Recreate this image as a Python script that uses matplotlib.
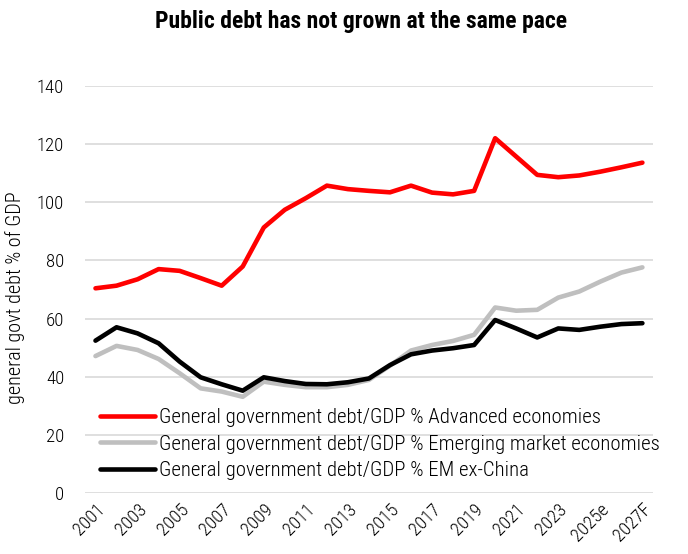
import numpy as np
import matplotlib.pyplot as plt

plt.rcParams['font.family'] = ['Roboto Condensed', 'Archivo Narrow', 'Liberation Sans Narrow', 'DejaVu Sans']

years = [str(y) for y in range(2001, 2025)] + ['2025e', '2026e', '2027F']

advanced = [70.4, 71.3, 73.5, 77.0, 76.4, 73.9, 71.3, 77.9, 91.3, 97.4,
            101.4, 105.7, 104.5, 103.9, 103.4, 105.7, 103.3, 102.7, 103.9, 122.0,
            115.7, 109.4, 108.6, 109.2, 110.5, 112.0, 113.6]
emerging = [47.1, 50.6, 49.2, 46.1, 41.2, 36.0, 34.9, 33.1, 38.3, 37.2,
            36.4, 36.4, 37.2, 38.9, 43.8, 49.0, 50.9, 52.3, 54.4, 63.8,
            62.7, 63.0, 67.2, 69.3, 72.7, 75.8, 77.6]
em_ex_china = [52.4, 57.0, 54.9, 51.5, 45.2, 39.8, 37.4, 35.2, 39.8, 38.5,
               37.5, 37.4, 38.1, 39.4, 44.0, 47.7, 49.0, 49.8, 50.9, 59.5,
               56.6, 53.5, 56.6, 56.1, 57.2, 58.1, 58.4]

fig = plt.figure(figsize=(6.88, 5.54), dpi=100)
ax = fig.add_axes([0.1235, 0.110, 0.8255, 0.735])

x = np.arange(len(years))
ax.plot(x, advanced, color='#ff0000', lw=3.3, solid_capstyle='round',
        label='General government debt/GDP % Advanced economies')
ax.plot(x, emerging, color='#bfbfbf', lw=3.3, solid_capstyle='round',
        label='General government debt/GDP % Emerging market economies')
ax.plot(x, em_ex_china, color='#000000', lw=3.3, solid_capstyle='round',
        label='General government debt/GDP % EM ex-China')

ax.set_xlim(-0.5, len(years) - 0.5)
ax.set_ylim(0, 140)
ax.set_yticks(np.arange(0, 141, 20))
ax.yaxis.grid(True, color='#d9d9d9', lw=1.2)
ax.set_axisbelow(True)
ax.set_xticks(x[::2])
ax.set_xticklabels(years[::2], rotation=45, ha='right', rotation_mode='anchor')
ax.tick_params(axis='both', length=0, labelsize=13.5, colors='#000000')
ax.tick_params(axis='x', pad=5)
ax.tick_params(axis='y', pad=15)
for lab in ax.get_xticklabels() + ax.get_yticklabels():
    lab.set_fontweight('light')
for s in ax.spines.values():
    s.set_visible(False)

ax.set_ylabel('general govt debt % of GDP', fontsize=14.5, fontweight='light')
ax.yaxis.set_label_coords(-0.105, 0.48)
fig.suptitle('Public debt has not grown at the same pace', fontsize=17,
             fontweight='bold', x=0.525, y=0.982)

leg = ax.legend(loc='lower left', bbox_to_anchor=(0.0, -0.004), frameon=False,
                fontsize=15, handlelength=2.65, handletextpad=0.2,
                labelspacing=0.36, borderaxespad=0.3)
for t in leg.get_texts():
    t.set_fontweight('light')

fig.savefig('out.png', dpi=100)
